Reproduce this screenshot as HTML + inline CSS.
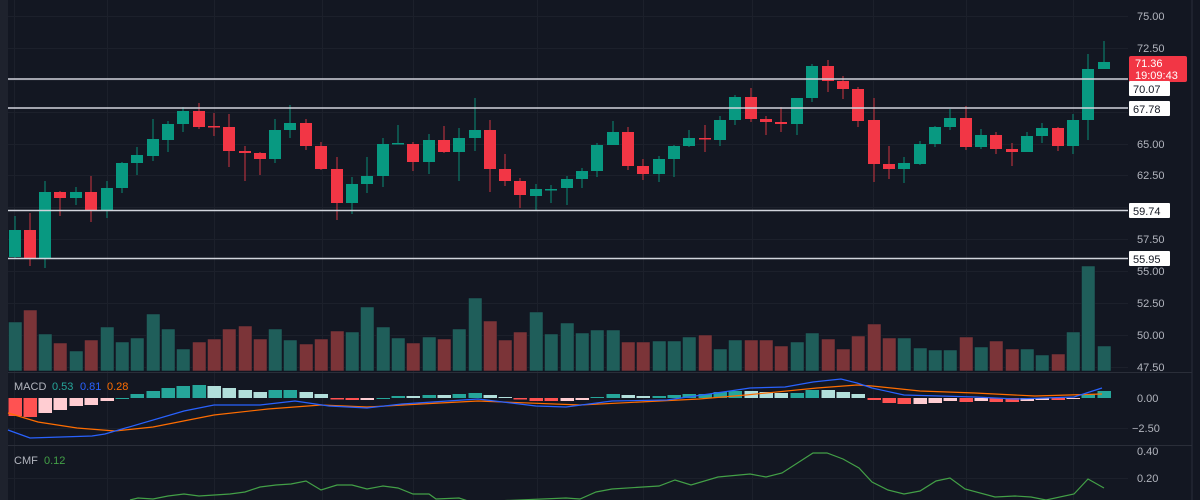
<!DOCTYPE html>
<html><head><meta charset="utf-8"><style>
html,body{margin:0;padding:0;background:#131722;width:1200px;height:500px;overflow:hidden}
svg{display:block;font-family:"Liberation Sans",sans-serif}
</style></head><body>
<svg id="s" width="1200" height="500" xmlns="http://www.w3.org/2000/svg">
<rect width="1200" height="500" fill="#131722"/>
<rect x="0" y="0" width="8" height="500" fill="#1e222d"/>
<line x1="1192" y1="0" x2="1192" y2="500" stroke="#2a2e39"/>
<g id="grid"></g>
<line x1="8" y1="372.5" x2="1192" y2="372.5" stroke="#2a2e39"/>
<line x1="8" y1="445.5" x2="1192" y2="445.5" stroke="#2a2e39"/>
<g id="vol"></g><g id="hist"></g><g id="lines"></g><g id="candles"></g>
<g stroke="#d1d4dc" stroke-width="1.5">
<line x1="8" y1="79" x2="1128" y2="79"/><line x1="8" y1="108" x2="1128" y2="108"/>
<line x1="8" y1="210.5" x2="1128" y2="210.5"/><line x1="8" y1="258.5" x2="1128" y2="258.5"/>
</g>
<g fill="#b2b5be" font-size="11">
<text x="1137" y="20">75.00</text><text x="1137" y="52">72.50</text>
<text x="1137" y="148">65.00</text><text x="1137" y="179">62.50</text>
<text x="1137" y="243">57.50</text><text x="1137" y="275">55.00</text>
<text x="1137" y="307">52.50</text><text x="1137" y="339">50.00</text>
<text x="1137" y="371">47.50</text>
<text x="1137" y="402">0.00</text><text x="1132" y="432">−2.50</text>
<text x="1137" y="455">0.40</text><text x="1137" y="482">0.20</text>
</g>
<rect x="1129" y="56" width="58" height="26" rx="2" fill="#f23645"/>
<text x="1135" y="67" font-size="11" fill="#fff">71.36</text>
<text x="1135" y="79" font-size="11" fill="#fff">19:09:43</text>
<g fill="#fff"><rect x="1129" y="81" width="41" height="15" rx="1"/><rect x="1129" y="101" width="41" height="15" rx="1"/>
<rect x="1129" y="203" width="41" height="15" rx="1"/><rect x="1129" y="251" width="41" height="15" rx="1"/></g>
<g fill="#131722" font-size="11">
<text x="1133" y="93">70.07</text><text x="1133" y="113">67.78</text>
<text x="1133" y="215">59.74</text><text x="1133" y="263">55.95</text>
</g>
<g font-size="11"><text x="14" y="390" fill="#b2b5be">MACD</text><text x="52" y="390" fill="#26a69a">0.53</text>
<text x="80" y="390" fill="#2962ff">0.81</text><text x="107" y="390" fill="#ff6d00">0.28</text>
<text x="14" y="464" fill="#b2b5be">CMF</text><text x="44" y="464" fill="#43a047">0.12</text></g>
</svg>
<script>
const NS="http://www.w3.org/2000/svg";
function el(p,t,a){const e=document.createElementNS(NS,t);for(const k in a)e.setAttribute(k,a[k]);document.getElementById(p).appendChild(e);return e;}
[14,107,214,322,413,537,643,752,873,966,1073].forEach(x=>el("grid","line",{x1:x+.5,y1:0,x2:x+.5,y2:500,stroke:"#1c202b"}));
[16,48,80,112,144,175,207,239,271,303,335,367,428,478].forEach(y=>el("grid","line",{x1:8,y1:y+.5,x2:1128,y2:y+.5,stroke:"#1c202b"}));
// x,top,bot,hi,lo,green
const C=[[15,230,257,216,258,1],[30,230,258,213,266,0],[45,192,258,181,268,1],[60,192,198,191,216,0],[76,192,198,187,205,1],[91,192,211,176,222,0],[107,188,211,181,218,1],[122,163,188,162,193,1],[137,155,163,147,175,1],[153,139,156,119,161,1],[168,124,140,121,152,1],[183,111,124,107,132,1],[199,111,127,103,129,0],[214,126,127,113,136,0],[229,127,151,114,167,0],[245,151,153,146,181,0],[260,153,159,152,175,0],[275,130,159,119,163,1],[290,123,130,105,138,1],[306,123,146,119,150,0],[321,146,169,142,170,0],[337,169,203,157,220,0],[352,184,203,177,214,1],[367,176,184,157,193,1],[383,144,176,138,187,1],[398,143,144,125,144,1],[413,144,162,142,171,0],[429,140,162,134,174,1],[444,140,152,126,153,0],[459,138,152,128,181,1],[475,130,138,98,151,1],[490,130,169,120,192,0],[505,169,181,154,186,0],[520,181,195,178,208,0],[536,189,196,184,211,1],[551,189,190,185,203,1],[567,179,188,176,205,1],[582,171,179,168,188,1],[597,145,171,143,177,1],[613,132,145,121,145,1],[628,132,166,127,170,0],[643,166,174,159,180,0],[659,159,174,156,182,1],[674,146,159,145,177,1],[689,138,146,130,147,1],[705,138,139,125,152,0],[720,120,140,116,146,1],[735,97,120,95,125,1],[751,97,119,88,122,0],[766,119,122,116,135,0],[781,122,124,107,132,0],[797,98,124,98,135,1],[812,66,98,64,102,1],[828,66,81,60,92,0],[843,81,89,76,99,0],[858,89,121,87,127,0],[874,120,164,98,182,0],[889,164,169,146,179,0],[904,163,169,157,183,1],[920,144,164,141,165,1],[935,127,144,126,147,1],[950,118,127,109,130,1],[966,118,147,106,150,0],[981,135,147,129,149,1],[996,135,149,132,154,0],[1012,149,152,143,166,0],[1027,136,152,132,152,1],[1042,128,136,123,143,1],[1058,128,146,127,151,0],[1073,120,146,114,154,1],[1088,69,120,54,140,1],[1104,62,69,41,69,1]];
const V=[322,310,334,343,351,340,327,342,338,314,329,349,342,339,329,326,339,329,340,344,339,331,332,307,327,338,343,337,339,329,298,321,340,332,312,334,323,333,330,330,342,342,341,341,337,335,349,340,340,340,346,342,333,339,349,336,324,338,338,348,350,350,337,347,341,349,349,355,354,332,266,346];
// hist: y, type 0 red,1 pink,2 green,3 light
const H=[[416,0],[417,0],[413,1],[410,1],[406,1],[405,1],[401,1],[398,2],[394,2],[391,2],[388,2],[386,2],[385,2],[386,3],[388,3],[390,3],[392,3],[390,2],[390,2],[392,3],[394,3],[399.5,0],[400,0],[400,1],[398,2],[396,2],[396,3],[395,2],[395,3],[394,2],[393,2],[395,3],[397,3],[399.5,0],[401,0],[401,0],[401,1],[400,1],[397,2],[394,2],[395,3],[396,3],[396,2],[395,2],[394,2],[394,2],[392,2],[391,2],[391,3],[392,3],[393,3],[393,2],[390,2],[390,3],[392,3],[394,3],[400,0],[403,0],[404,0],[404,1],[403,1],[401,1],[402,0],[401,1],[402,0],[402,0],[401,1],[400,1],[400,0],[399,1],[394,2],[391,2]];
const HC=["#ff5252","#ffcdd2","#26a69a","#b2dfdb"];
C.forEach((c,i)=>{
 const [x,t,b,h,l,g]=c;const col=g?"#089981":"#f23645";
 el("vol","rect",{x:x-6.5,y:V[i],width:13.5,height:371-V[i],fill:g?"#1f5e5a":"#7b3438",stroke:"#131722","stroke-width":0.5});
 const hy=H[i][0];el("hist","rect",{x:x-6.5,y:Math.min(hy,398),width:13.5,height:Math.max(Math.abs(hy-398),1),fill:HC[H[i][1]]});
 el("candles","line",{x1:x,y1:h,x2:x,y2:l,stroke:g?"#0b7a68":"#b0303c","stroke-width":1.2});
 el("candles","rect",{x:x-6,y:t,width:12,height:Math.max(b-t,1.5),fill:col});
});
const blue="8,430 30,438 92,436 105,434 184,411 214,405 260,405 295,401 329,406 367,408 402,404 478,399 536,406 566,407 612,401 667,400 730,391 750,388 785,387 813,382 841,379 857,383 872,388 904,395 975,397 1015,399 1074,397 1102,388";
const orange="8,413 38,422 77,428 115,431 153,427 214,415 268,409 321,405 367,407 421,404 478,401 580,405 699,399 746,395 817,388 857,385 872,386 920,391 975,393 1035,396 1102,394";
const cmf="130,500 138,498 153,499 168,496 184,494 199,496 230,494 245,492 260,487 276,485 291,484 306,481 321,490 337,485 352,485 367,489 383,486 398,488 413,494 429,494 436,499 459,498 471,502 566,498 580,499 596,492 612,489 643,487 659,486 675,480 691,485 718,477 750,474 766,477 782,473 813,453 827,453 843,459 859,468 872,482 888,490 904,494 920,491 936,481 950,478 965,489 995,497 1015,496 1031,497 1046,500 1074,494 1088,479 1104,488";
el("lines","polyline",{points:orange,fill:"none",stroke:"#ff6d00","stroke-width":1.2});
el("lines","polyline",{points:blue,fill:"none",stroke:"#2962ff","stroke-width":1.2});
el("lines","polyline",{points:cmf,fill:"none",stroke:"#43a047","stroke-width":1.2});
</script>
</body></html>
